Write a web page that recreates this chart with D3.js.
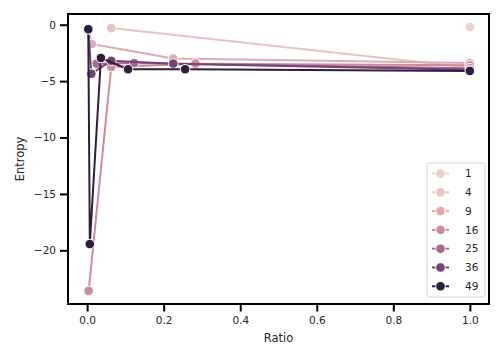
<!DOCTYPE html>
<html>
<head>
<meta charset="utf-8">
<script src="https://cdn.jsdelivr.net/npm/d3@7"></script>
<style>
  body { margin: 0; background: #fff; }
  text { font-family: "DejaVu Sans", sans-serif; fill: #262626; }
</style>
</head>
<body>
<div id="chart"></div>
<script>
// hue levels and the points (ratio, entropy) per level
var hueLevels = [1, 4, 9, 16, 25, 36, 49];
var ratios = [
    [1.0],
    [0.063, 1.0],
    [0.003, 0.012, 0.225, 1.0],
    [0.004, 0.063, 0.283, 1.0],
    [0.025, 0.123, 1.0],
    [0.003, 0.011, 0.063, 0.225, 1.0],
    [0.003, 0.007, 0.036, 0.107, 0.256, 1.0]
];
var entropies = [
    [-0.2],
    [-0.3, -3.8],
    [-0.45, -1.7, -3.0, -3.4],
    [-23.6, -3.75, -3.45, -3.6],
    [-3.45, -3.4, -3.85],
    [-0.45, -4.35, -3.2, -3.45, -4.0],
    [-0.4, -19.45, -2.95, -3.95, -3.95, -4.1]
];
var xTicks = [0, 0.2, 0.4, 0.6, 0.8, 1.0];
var yTicks = [0, -5, -10, -15, -20];

var width = 504, height = 360;
var margin = {top: 14, right: 15, bottom: 56, left: 68};
var plotW = width - margin.left - margin.right;
var plotH = height - margin.top - margin.bottom;

// seaborn default cubehelix colormap (light -> dark)
function cubehelix(t) {
    var x = 0.85 + (0.15 - 0.85) * t;
    var a = 0.8 * x * (1 - x) / 2;
    var phi = 2 * Math.PI * (0 / 3 + 0.4 * x);
    function ch(p0, p1) {
        var v = x + a * (p0 * Math.cos(phi) + p1 * Math.sin(phi));
        return Math.round(Math.max(0, Math.min(1, v)) * 255);
    }
    return d3.rgb(ch(-0.14861, 1.78277), ch(-0.29227, -0.90649), ch(1.97294, 0)).formatHex();
}
var hueNorm = d3.scaleLinear().domain(d3.extent(hueLevels)).range([0, 1]);
function colorFor(h) { return cubehelix(hueNorm(h)); }

var svg = d3.select("#chart").append("svg")
    .attr("width", width)
    .attr("height", height);

var g = svg.append("g")
    .attr("transform", "translate(" + margin.left + "," + margin.top + ")");

var x = d3.scaleLinear().domain([-0.05, 1.05]).range([0, plotW]);
var y = d3.scaleLinear().domain([-24.76, 0.95]).range([plotH, 0]);

// axes
var xAxis = g.append("g")
    .attr("transform", "translate(0," + plotH + ")")
    .call(d3.axisBottom(x).tickValues(xTicks).tickFormat(d3.format(".1f")).tickSize(7.5).tickPadding(5));
var yAxis = g.append("g")
    .call(d3.axisLeft(y).tickValues(yTicks).tickFormat(function (d) { return d < 0 ? "\u2212" + Math.abs(d) : d; }).tickSize(8).tickPadding(4));

[xAxis, yAxis].forEach(function (ax) {
    ax.select(".domain").remove();
    ax.selectAll(".tick line").attr("stroke", "#000").attr("stroke-width", 2);
    ax.selectAll(".tick text").attr("font-size", 10.5).attr("fill", "#262626")
        .attr("font-family", "DejaVu Sans, sans-serif");
});

// lines + markers, drawn light to dark
var line = d3.line()
    .x(function (d) { return x(d[0]); })
    .y(function (d) { return y(d[1]); });

hueLevels.forEach(function (h, i) {
    var pts = ratios[i].map(function (r, j) { return [r, entropies[i][j]]; });
    pts.sort(function (a, b) { return a[0] - b[0]; });
    var col = colorFor(h);
    var series = g.append("g").attr("class", "series");
    series.append("path")
        .datum(pts)
        .attr("fill", "none")
        .attr("stroke", col)
        .attr("stroke-width", 2)
        .attr("stroke-linejoin", "round")
        .attr("d", line);
    series.selectAll("circle")
        .data(pts)
        .enter()
        .append("circle")
        .attr("cx", function (d) { return x(d[0]); })
        .attr("cy", function (d) { return y(d[1]); })
        .attr("r", 4.8)
        .attr("fill", col)
        .attr("stroke", "#fff")
        .attr("stroke-width", 1);
});

// frame
g.append("rect")
    .attr("width", plotW)
    .attr("height", plotH)
    .attr("fill", "none")
    .attr("stroke", "#000")
    .attr("stroke-width", 2);

// axis labels
svg.append("text")
    .attr("x", margin.left + plotW / 2)
    .attr("y", 342)
    .attr("text-anchor", "middle")
    .attr("font-size", 11.5)
    .text("Ratio");
svg.append("text")
    .attr("transform", "translate(24," + (margin.top + plotH / 2) + ") rotate(-90)")
    .attr("text-anchor", "middle")
    .attr("font-size", 11.5)
    .text("Entropy");

// legend
var legend = svg.append("g").attr("transform", "translate(427,163)");
legend.append("rect")
    .attr("width", 58)
    .attr("height", 134)
    .attr("rx", 3)
    .attr("fill", "#fff")
    .attr("fill-opacity", 0.8)
    .attr("stroke", "#d6d6d6")
    .attr("stroke-width", 1);

var rows = legend.selectAll("g.row")
    .data(hueLevels)
    .enter()
    .append("g")
    .attr("class", "row")
    .attr("transform", function (d, i) { return "translate(0," + (10.5 + i * 18.8) + ")"; });
rows.append("line")
    .attr("x1", 5).attr("x2", 22)
    .attr("stroke", function (d) { return colorFor(d); })
    .attr("stroke-width", 2);
rows.append("circle")
    .attr("cx", 13.5)
    .attr("r", 4.8)
    .attr("fill", function (d) { return colorFor(d); })
    .attr("stroke", "#fff")
    .attr("stroke-width", 1);
rows.append("text")
    .attr("x", 38)
    .attr("dy", "0.35em")
    .attr("font-size", 10.5)
    .text(function (d) { return d; });
</script>
</body>
</html>
